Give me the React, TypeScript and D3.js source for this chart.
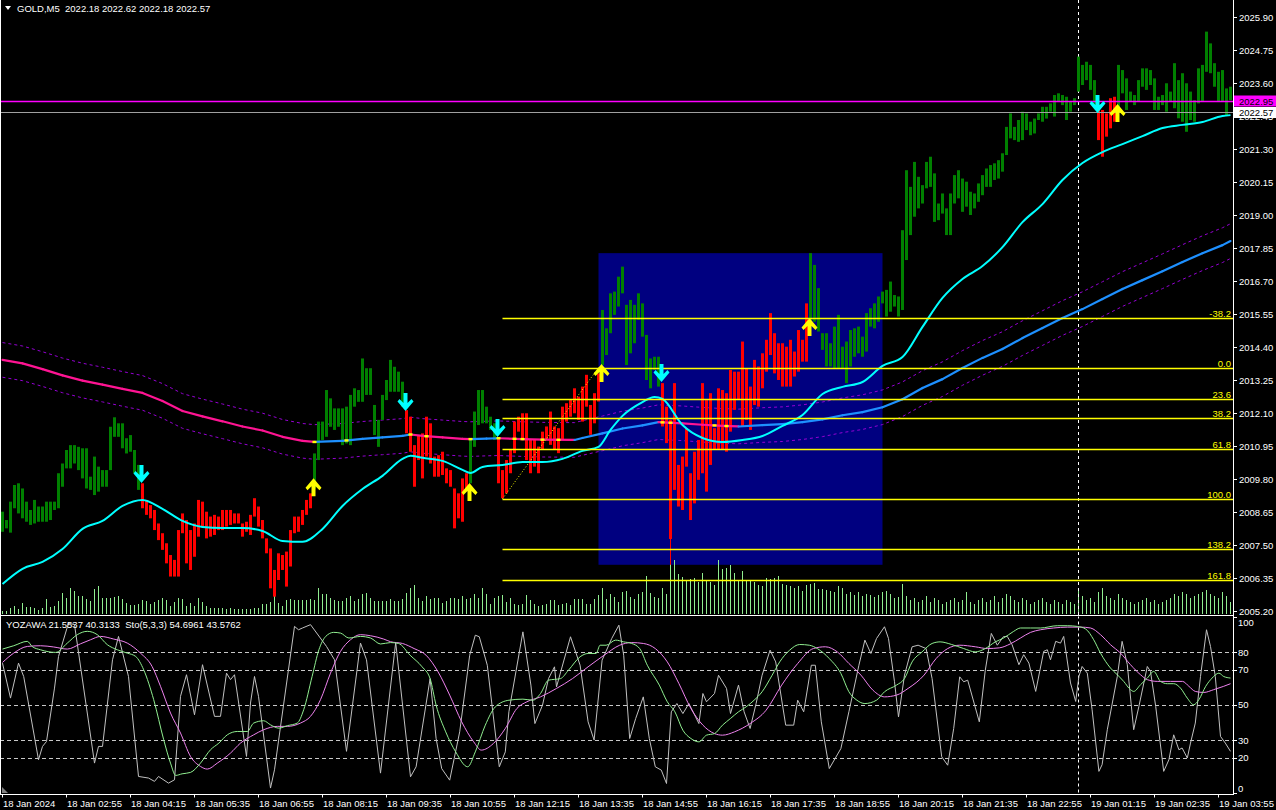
import React from "react";
import * as d3 from "d3";

// ---------- DATA ----------
const symbolTitle = "GOLD,M5  2022.18 2022.62 2022.18 2022.57";
const oscTitle = "YOZAWA 21.5537 40.3133  Sto(5,3,3) 54.6961 43.5762";

const haOpen = [
  2007.95,2008.07,2007.92,2008.77,2008.59,2008.42,2008.30,2008.19,2008.24,2008.30,
  2008.30,2008.30,2008.36,2008.71,2008.77,2009.52,2010.16,2010.16,2010.33,2010.10,
  2009.81,2009.46,2009.41,2009.23,2009.35,2009.52,2009.52,2010.10,2011.26,2011.26,
  2010.86,2010.68,2010.74,2009.99,2009.41,2009.64,2009.06,2008.88,2008.71,2008.24,
  2007.90,2007.55,2007.14,2006.97,2008.01,2008.59,2008.36,2008.01,2008.24,2009.06,
  2009.00,2008.65,2008.48,2008.54,2008.48,2008.71,2008.71,2008.71,2008.59,2008.59,
  2008.24,2008.30,2008.54,2009.12,2008.83,2008.36,2007.72,2007.37,2006.62,2007.20,
  2007.14,2007.26,2008.01,2008.48,2008.48,2008.71,2009.06,2009.29,2009.46,2010.45,
  2011.15,2011.26,2011.61,2011.50,2011.61,2010.97,2011.03,2010.97,2012.31,2012.48,
  2012.48,2012.72,2012.72,2011.32,2010.91,2011.85,2012.54,2012.83,2012.83,2012.83,
  2012.31,2012.19,2011.96,2010.97,2011.32,2011.38,2011.96,2011.73,2010.57,2010.62,
  2010.74,2010.16,2010.10,2009.46,2009.29,2009.81,2009.99,2009.64,2010.91,2011.67,
  2011.73,2011.73,2011.50,2011.15,2011.21,2010.10,2010.45,2010.80,2011.79,2011.96,
  2012.08,2012.08,2011.15,2011.15,2010.92,2011.44,2011.62,2012.14,2011.62,2011.56,
  2012.31,2012.43,2012.54,2012.95,2012.66,2013.01,2013.42,2012.37,2012.78,2013.47,
  2013.76,2014.11,2014.87,2015.51,2015.80,2016.26,2013.76,2014.17,2014.52,2015.33,
  2014.75,2013.24,2012.95,2013.59,2013.01,2013.13,2012.31,2011.85,2013.13,2010.28,
  2010.57,2011.56,2009.99,2010.74,2011.15,2013.13,2012.54,2012.78,2011.56,2012.95,
  2012.89,2012.78,2013.59,2013.53,2013.53,2014.58,2013.65,2013.01,2013.94,2013.71,
  2014.17,2014.64,2015.57,2014.87,2014.52,2014.52,2014.40,2014.64,2014.23,2014.98,
  2014.64,2015.91,2015.16,2015.27,2014.93,2014.29,2013.71,2013.71,2013.65,2013.65,
  2013.65,2013.13,2013.71,2014.05,2014.17,2014.05,2014.23,2015.10,2015.04,2015.27,
  2015.91,2015.45,2015.62,2015.80,2015.45,2015.68,2017.42,2018.29,2018.93,2019.22,
  2019.39,2019.92,2019.97,2018.75,2018.81,2019.04,2018.29,2018.29,2019.39,2019.57,
  2019.10,2019.28,2018.99,2019.22,2019.45,2019.68,2019.97,2019.97,2020.21,2020.26,
  2020.50,2021.08,2021.66,2021.60,2021.54,2021.60,2021.95,2021.77,2021.83,2022.30,
  2022.24,2022.35,2022.59,2022.42,2022.94,2022.82,2022.30,2022.59,2022.82,2023.29,
  2023.52,2023.69,2023.35,2022.77,2022.65,2022.65,2022.53,2023.06,2023.11,2022.71,
  2023.23,2022.65,2022.94,2022.82,2022.94,2023.46,2023.35,2023.52,2022.65,2022.65,
  2022.82,2022.59,2022.94,2022.71,2022.36,2022.24,2021.89,2022.30,2022.24,2022.88,
  2022.94,2023.98,2023.93,2023.46,2022.94,2022.94,2022.47,2022.99,
];

const haClose = [
  2008.65,2008.36,2009.00,2009.58,2009.64,2009.46,2009.00,2008.71,2009.06,2008.83,
  2008.83,2009.00,2009.00,2009.00,2009.99,2010.33,2010.80,2010.97,2010.97,2010.91,
  2010.86,2010.86,2009.87,2010.57,2010.22,2010.10,2010.10,2011.61,2011.94,2011.73,
  2011.73,2011.21,2011.32,2010.80,2010.28,2008.77,2008.54,2008.42,2008.01,2007.66,
  2007.32,2006.85,2006.39,2006.39,2006.39,2007.90,2006.85,2006.62,2007.08,2007.78,
  2008.13,2007.72,2007.78,2007.84,2008.01,2008.01,2008.13,2008.19,2008.24,2008.24,
  2007.78,2007.95,2007.84,2008.48,2008.13,2007.72,2007.20,2005.98,2005.69,2006.27,
  2006.62,2006.04,2006.74,2007.90,2007.95,2008.19,2008.54,2008.77,2010.68,2011.79,
  2011.79,2012.89,2012.60,2012.25,2012.25,2012.25,2012.31,2012.72,2012.95,2012.89,
  2013.99,2013.65,2013.65,2012.37,2011.85,2012.72,2013.24,2013.94,2013.70,2013.53,
  2013.18,2011.38,2010.74,2009.52,2010.45,2009.81,2010.57,2010.33,2009.87,2009.87,
  2009.93,2009.64,2009.52,2008.07,2008.42,2008.30,2009.41,2011.15,2012.14,2012.89,
  2012.89,2012.31,2011.96,2011.73,2009.64,2009.12,2009.29,2009.99,2010.69,2011.44,
  2011.15,2010.45,2009.99,2010.22,2009.99,2010.80,2011.15,2010.98,2010.80,2010.69,
  2011.15,2011.79,2011.96,2012.08,2011.85,2011.79,2012.31,2011.33,2011.73,2012.49,
  2015.68,2015.04,2016.26,2016.32,2016.84,2017.19,2015.86,2016.03,2015.86,2016.26,
  2015.91,2014.81,2013.99,2014.05,2014.05,2011.62,2011.04,2007.70,2009.41,2008.83,
  2008.71,2010.22,2008.36,2008.94,2009.76,2009.99,2009.35,2010.28,2010.80,2010.80,
  2010.80,2010.74,2011.44,2012.20,2012.54,2011.62,2011.85,2011.50,2012.37,2012.31,
  2012.95,2013.53,2014.11,2013.47,2013.24,2013.01,2013.01,2013.01,2013.36,2013.53,
  2013.88,2013.88,2017.66,2017.25,2016.44,2014.87,2014.87,2014.52,2015.10,2015.51,
  2014.40,2014.58,2014.98,2015.04,2015.10,2014.75,2015.57,2015.74,2015.91,2016.15,
  2016.32,2016.38,2016.67,2016.20,2016.15,2018.46,2020.55,2019.97,2020.84,2020.32,
  2020.03,2020.84,2021.02,2020.44,2019.39,2019.74,2019.22,2019.74,2020.38,2020.55,
  2020.26,2020.15,2019.80,2019.74,2020.09,2020.38,2020.61,2020.73,2020.79,2020.90,
  2021.14,2022.06,2022.53,2022.06,2022.30,2022.59,2022.53,2022.24,2022.35,2022.53,
  2022.76,2022.76,2022.88,2023.17,2023.23,2023.17,2023.11,2022.94,2023.06,2024.51,
  2024.22,2024.33,2024.22,2023.69,2021.60,2021.02,2021.72,2022.01,2022.24,2024.22,
  2024.04,2023.75,2023.29,2023.17,2023.69,2024.10,2024.10,2024.04,2023.75,2023.11,
  2023.17,2023.58,2023.29,2024.28,2023.69,2023.93,2023.58,2023.29,2022.99,2024.10,
  2024.22,2025.38,2024.97,2024.28,2023.98,2024.04,2023.40,2023.46,
];

const wickLowBars = [167];
const wickLowPrices = [2006.8];

const tickVolume = [
  30,30,60,80,50,110,70,70,60,40,
  60,150,70,80,130,210,160,260,230,180,
  180,150,130,250,280,160,160,160,170,180,
  150,110,90,90,100,140,130,100,120,140,
  160,140,80,120,160,150,80,110,80,160,
  120,80,60,60,60,60,50,60,50,50,
  50,50,50,60,60,100,100,120,200,110,
  80,140,150,140,140,140,140,150,140,260,
  200,200,160,140,130,130,160,180,130,150,
  200,210,160,130,130,130,130,150,130,130,
  150,210,260,290,160,130,180,150,160,160,
  110,130,160,160,150,180,150,160,200,160,
  260,200,100,160,180,190,120,160,100,90,
  100,190,140,100,80,90,100,140,140,90,
  100,110,90,150,150,150,100,100,150,190,
  260,150,200,170,120,220,230,170,150,200,
  220,380,210,170,160,260,200,760,540,400,
  370,330,350,360,320,410,330,320,290,540,
  450,460,490,410,330,430,330,330,320,290,
  280,360,350,360,380,300,290,280,260,280,
  230,290,300,310,250,250,240,230,220,280,
  260,200,220,190,220,180,200,190,170,190,
  220,230,200,160,170,300,180,140,160,120,
  140,180,120,160,140,100,120,140,160,120,
  140,220,120,100,140,160,120,140,180,120,
  160,200,180,140,120,160,140,100,120,140,
  160,120,100,140,120,100,140,120,100,240,
  180,140,160,120,220,260,180,160,140,200,
  160,140,120,100,120,140,160,120,140,100,
  120,140,160,200,180,220,200,160,180,200,
  220,240,200,180,160,220,180,120,
];

// fast moving average (cyan), [bar, price]
const maFast: [number, number][] = [
  [0,2006.13],[5,2006.66],[10,2006.90],[15,2007.35],[20,2008.05],[25,2008.33],[30,2008.85],[35,2009.06],
  [40,2008.75],[45,2008.33],[50,2008.12],[55,2008.08],[60,2008.08],[65,2007.98],[70,2007.63],[75,2007.60],
  [80,2008.05],[85,2008.85],[90,2009.44],[95,2009.90],[100,2010.49],[102,2010.60],[105,2010.53],[110,2010.42],
  [115,2010.11],[117,2010.00],[120,2010.21],[125,2010.28],[130,2010.38],[135,2010.38],[140,2010.49],[145,2010.77],
  [149,2010.91],[152,2011.50],[155,2011.99],[160,2012.47],[163,2012.65],[165,2012.58],[170,2011.67],[175,2011.22],
  [180,2011.08],[185,2011.15],[190,2011.29],[195,2011.64],[200,2012.02],[205,2012.75],[210,2013.00],[215,2013.17],
  [220,2013.73],[225,2014.04],[230,2015.09],[235,2016.10],[240,2016.76],[245,2017.21],[250,2017.87],[255,2018.74],
  [260,2019.37],[265,2020.21],[270,2020.80],[275,2021.18],[280,2021.46],[285,2021.74],[290,2022.02],[295,2022.13],
  [300,2022.23],[305,2022.44],[307,2022.47],
];

// slow moving average (pink falling / blue rising), [bar, price]
const maSlow: [number, number][] = [
  [0,2013.94],[5,2013.82],[10,2013.62],[15,2013.40],[20,2013.22],[25,2013.08],[30,2012.93],[35,2012.79],
  [40,2012.51],[45,2012.16],[50,2011.97],[55,2011.80],[60,2011.62],[65,2011.48],[70,2011.26],[75,2011.12],
  [78,2011.08],[85,2011.12],[90,2011.19],[95,2011.24],[100,2011.29],[102,2011.34],[105,2011.29],[110,2011.24],
  [115,2011.19],[117,2011.18],[121,2011.20],[124,2011.21],[130,2011.18],[135,2011.16],[143,2011.15],[145,2011.22],
  [150,2011.38],[155,2011.55],[160,2011.66],[164,2011.77],[170,2011.73],[175,2011.68],[180,2011.64],[184,2011.62],
  [190,2011.67],[195,2011.70],[200,2011.77],[205,2011.87],[210,2012.01],[215,2012.12],[220,2012.29],[225,2012.57],
  [230,2012.96],[235,2013.27],[240,2013.66],[245,2014.01],[250,2014.32],[255,2014.70],[260,2015.05],[265,2015.40],
  [270,2015.71],[275,2016.06],[280,2016.41],[285,2016.72],[290,2017.03],[295,2017.35],[300,2017.66],[305,2017.94],
  [307,2018.08],
];
const envelopePct = 0.03;
const slowYellowBars = [78, 86, 102, 106, 117, 124, 128, 130, 135, 139, 165, 167, 178, 181];

// Fibonacci retracement
const fibLevels = [-38.2, 0, 23.6, 38.2, 61.8, 100, 138.2, 161.8];
const fibStartBar = 125;
const fibEndBar = 149;
const fibLowPrice = 2009.1;
const fibHighPrice = 2013.67;

// rectangle object
const rectBars = [149, 220];
const rectPrices = [2006.8, 2017.66];

// signal arrows
const downArrowBars = [35, 101, 124, 165, 274];
const downArrowPrices = [2010.28, 2012.79, 2011.88, 2013.8, 2023.17];
const upArrowBars = [78, 117, 150, 202, 279];
const upArrowPrices = [2009.82, 2009.65, 2013.8, 2015.4, 2022.86];

// horizontal lines
const magentaLevel = 2022.95;
const bidPrice = 2022.57;
const separatorBar = 269;

// axes
const priceTicks = [
  2005.2, 2006.35, 2007.5, 2008.65, 2009.8, 2010.95, 2012.1, 2013.25, 2014.4, 2015.55,
  2016.7, 2017.85, 2019.0, 2020.15, 2021.3, 2022.45, 2023.6, 2024.75, 2025.9,
];
const timeTickBars = [0,16,32,48,64,80,96,112,128,144,160,176,192,208,224,240,256,272,288,304];
const timeLabels = [
  "18 Jan 2024","18 Jan 02:55","18 Jan 04:15","18 Jan 05:35","18 Jan 06:55","18 Jan 08:15",
  "18 Jan 09:35","18 Jan 10:55","18 Jan 12:15","18 Jan 13:35","18 Jan 14:55","18 Jan 16:15",
  "18 Jan 17:35","18 Jan 18:55","18 Jan 20:15","18 Jan 21:35","18 Jan 22:55","19 Jan 01:15",
  "19 Jan 02:35","19 Jan 03:55",
];

// oscillator window, [bar, value]
const oscGray: [number, number][] = [
  [0,73.8],[2,53.9],[4,73.8],[5.3,66.2],[9,18.8],[10,26.4],[11,29.2],[13,59.6],[14,77.6],[16.5,96.6],[18,95.7],
  [23,16.9],[24,26.4],[25,26.4],[27.5,75.7],[29,89.0],[31.5,66.2],[34,9.3],[36.5,8.4],[38,6.5],[39,9.3],[41.5,5.5],
  [43,7.4],[44.5,54.9],[46,67.2],[48,44.4],[50,72.9],[53,43.5],[54.5,43.5],[56,68.1],[57,64.4],[58,67.2],[61,20.7],
  [62,51.1],[63,66.2],[64,54.9],[67,2.7],[68,13.1],[73,94.7],[74,92.8],[75,93.8],[77,95.7],[81,83.3],[83,75.7],
  [86,23.6],[89.5,85.2],[91,75.7],[94.5,11.2],[98.3,85.5],[102,9.1],[103.4,14.8],[106.9,65.0],[108.4,30.9],
  [109.8,13.8],[111.8,7.2],[114.3,34.7],[116.8,78.3],[118.2,89.7],[119.2,88.8],[121.2,72.6],[124.2,14.8],
  [125.7,23.3],[126.6,46.1],[130.1,91.6],[132.1,61.3],[133.1,39.4],[135,49.9],[136.5,65.0],[138,71.7],[138.5,60.3],
  [142,88.8],[144.4,72.6],[146.4,40.4],[147.9,30.0],[149.9,75.5],[152.3,87.8],[154.1,95.4],[155.3,78.3],
  [156.8,30.9],[158.3,42.3],[160.2,54.6],[161.7,30.9],[163.2,14.8],[164.7,12.9],[166,5.3],[167.2,46.1],
  [168.6,50.8],[170.1,45.1],[171.6,50.8],[174.1,39.4],[175.1,56.5],[176,51.8],[178,56.5],[179,66.9],[181,59.4],
  [182,45.1],[184,61.3],[185.4,46.1],[186.9,36.6],[188.4,50.8],[189.9,66.9],[191.9,81.2],[193.3,74.5],
  [195.8,38.5],[197.8,38.5],[198.8,52.7],[200.3,46.1],[202.2,72.6],[203.2,72.6],[204.7,40.4],[206.7,13.8],
  [209.6,25.2],[211.6,46.1],[214.1,72.6],[215.6,86.9],[217.1,79.3],[218.5,87.8],[220.5,94.5],[221.5,87.8],
  [223,63.2],[224,43.2],[225.5,67.0],[227.4,83.1],[228.9,84.0],[230.9,82.1],[232.4,65.0],[234.8,20.5],
  [236.3,15.7],[237.8,36.6],[239.3,66.0],[240.3,63.2],[241.3,64.1],[244.2,40.4],[245.7,69.8],[247.2,90.7],
  [248.7,84.0],[250.2,88.8],[251.2,89.0],[252.4,84.3],[254.1,72.9],[255.3,78.6],[256.6,73.8],[258.3,57.7],
  [260.3,80.5],[261.2,81.4],[262,75.7],[263.3,86.2],[264.5,85.2],[265.3,89.0],[267,62.5],[268.3,52.0],
  [269.1,66.2],[269.9,71.9],[271.2,68.1],[272.4,47.3],[274.1,12.2],[274.9,16.0],[276.2,35.9],[278.7,66.2],
  [279.9,86.2],[281.2,72.9],[282.8,35.9],[284.1,49.2],[286.2,71.9],[287,69.1],[288.3,49.2],[290.3,12.2],
  [291.6,18.8],[292.8,33.0],[294.1,24.5],[294.9,25.5],[296.2,19.8],[297,28.3],[298.2,39.7],[299.5,66.2],
  [301,92.8],[302,83.3],[303.2,66.2],[304.5,32.1],[305.7,28.3],[307,23.6],
];

const oscGreen: [number, number][] = [
  [0,81.8],[2.8,83.7],[6.2,86.2],[7.4,83.3],[9.5,81.4],[13.3,79.9],[16.2,85.2],[18.7,90.0],[21.2,91.9],[23.7,90.0],
  [26.2,84.3],[28.7,81.4],[31.2,79.5],[33.3,77.6],[35.3,70.0],[37.8,53.0],[40.3,30.2],[42,16.9],[43.3,9.9],
  [44.9,10.8],[47,11.6],[49.5,16.9],[52,24.5],[54.1,28.3],[56.2,33.0],[58.7,34.9],[61.2,34.9],[62.8,39.7],
  [65.3,41.0],[67,38.7],[69.1,36.8],[71.2,38.2],[73.7,39.7],[75.3,47.3],[77.4,66.2],[79.1,81.4],[80.8,89.0],
  [82.8,91.3],[84.5,90.9],[86.6,88.1],[89.5,89.0],[92,88.1],[94.5,84.7],[97,85.5],[99,85.0],[101.9,78.3],
  [104.9,71.7],[106.9,65.0],[108.4,49.9],[110.8,34.7],[113.3,23.3],[116.3,14.8],[118.2,23.3],[120.7,38.5],
  [123.2,48.9],[126.6,52.7],[130.1,53.3],[132.6,52.7],[134.5,56.5],[136.5,64.1],[139.5,65.0],[141.5,69.8],
  [144.4,77.4],[146.4,79.3],[148.4,79.3],[149.4,84.0],[150.9,84.0],[153.3,86.9],[155.3,85.9],[157.3,85.0],
  [159.3,82.1],[161.2,72.6],[164.2,61.3],[166.2,51.8],[168.1,46.1],[170.1,35.6],[172.1,30.9],[174.1,29.0],
  [176,32.8],[178,33.7],[180,38.5],[182,42.3],[184,46.1],[185.9,48.9],[187.9,52.7],[189.9,57.5],[192.4,66.9],
  [194.3,74.5],[196.8,81.2],[199.3,84.4],[201.7,84.0],[203.7,82.1],[206.7,76.4],[209.6,67.9],[211.6,57.5],
  [213.6,52.7],[215.6,50.8],[218.5,52.7],[220.5,57.5],[223.5,61.3],[225.5,65.0],[227.4,74.5],[229.9,80.2],
  [232.4,85.0],[234.4,85.9],[237.3,84.4],[240.3,82.1],[243.2,80.2],[245.7,82.1],[248.2,85.9],[250.2,88.0],
  [252.8,91.9],[254.5,93.8],[257,93.8],[259.5,93.8],[263.7,95.1],[266.2,95.1],[268.7,94.7],[270.8,93.2],
  [272.8,87.1],[274.5,79.5],[277,71.0],[278.7,67.2],[280.3,63.4],[282,58.7],[282.8,57.7],[284.5,61.5],
  [286.2,65.3],[287.8,69.1],[289.5,63.4],[291.2,62.1],[292.8,62.1],[294.5,59.6],[296.2,53.9],[297.8,50.1],
  [299.1,53.0],[300.8,60.6],[302.4,65.3],[304.1,68.1],[305.3,66.2],[307,65.3],
];

const oscViolet: [number, number][] = [
  [0,74.2],[2.8,79.5],[6.2,83.3],[9.5,83.7],[12.8,83.0],[16.2,81.8],[19.5,84.8],[22,87.1],[24.5,89.0],[27.8,87.5],
  [31.2,85.2],[34.5,79.5],[37.4,71.9],[39.5,60.6],[42,45.4],[44.5,34.0],[47,20.7],[49.5,15.0],[51.2,13.5],
  [53.7,16.9],[57,22.6],[59.5,28.3],[62.8,33.0],[65.3,35.9],[68.7,37.8],[71.2,37.8],[74.5,39.7],[77,43.5],
  [79.5,53.0],[82,68.1],[84.5,80.5],[87,87.1],[89.5,90.0],[92,89.4],[95.3,87.5],[97,86.0],[100,85.0],
  [102.9,82.1],[105.9,78.3],[108.9,68.8],[111.8,55.6],[114.8,40.4],[117.8,29.0],[119.7,24.3],[122.7,28.0],
  [125.7,36.6],[128.6,48.0],[131.1,51.8],[134.5,54.6],[138.5,59.4],[142.5,65.0],[146.4,71.7],[150.4,78.3],
  [154.3,84.0],[157.3,85.5],[160.2,85.0],[163.2,82.1],[166.2,74.5],[169.1,62.2],[172.1,48.0],[175.1,38.5],
  [178,33.7],[180,32.8],[183,34.7],[186.9,39.4],[190.9,47.0],[194.8,61.3],[198.8,73.6],[202.7,82.1],
  [205.7,83.1],[208.7,80.2],[211.6,73.6],[214.6,67.0],[217.6,58.4],[220.5,54.6],[223.5,55.6],[226.4,59.4],
  [230.4,67.0],[233.4,76.4],[236.3,82.1],[239.3,84.0],[243.2,83.1],[246.2,82.1],[249.2,82.5],[252,84.8],
  [254.5,88.1],[257,91.3],[259.5,92.8],[262.8,93.8],[266.2,94.3],[269.5,94.3],[272,93.8],[274.5,90.0],
  [277,84.3],[279.5,79.5],[282,72.9],[284.5,67.2],[286.2,64.4],[288.7,63.4],[292,63.4],[295,63.4],
  [296.6,60.6],[298.2,57.7],[300.3,57.1],[302.8,58.7],[305.3,60.6],[307,62.1],
];

const oscLevels = [80, 70, 50, 30, 20];
const oscAxisLabels = [100, 80, 70, 50, 30, 20, 0];

// ---------- LAYOUT / STYLE ----------
const W = 1276;
const H = 810;
const PLOT_R = 1233;
const MAIN_BOTTOM = 615.5;
const AXIS_Y = 794.5;
const FONT = "'Liberation Sans', Arial, sans-serif";
const C = {
  bg: "#000000",
  green: "#008000",
  red: "#FF0000",
  navy: "#000080",
  cyan: "#00FFFF",
  pink: "#FF1493",
  blue: "#1E90FF",
  envelope: "#9400D3",
  yellow: "#FFFF00",
  vol: "#90EE90",
  magenta: "#FF00FF",
  bid: "#A0A0A0",
  text: "#FFFFFF",
  oscGray: "#C0C0C0",
  oscGreen: "#90EE90",
  oscViolet: "#EE82EE",
  level: "#C8C8C8",
};

function arrowPoints(cx: number, t: number, down: boolean): string {
  const pts: [number, number][] = [
    [cx - 2, 0], [cx + 2, 0], [cx + 2, 10], [cx + 6, 6], [cx + 8, 8.5],
    [cx, 18], [cx - 8, 8.5], [cx - 6, 6], [cx - 2, 10],
  ];
  return pts.map(([px, dy]) => `${px},${down ? t + dy : t + 18 - dy}`).join(" ");
}

export default function App() {
  const x = d3.scaleLinear().domain([0, 307]).range([2.5, 1230.5]);
  const y = d3.scaleLinear().domain([2005.2, 2025.9]).range([610.7, 16.7]);
  const yo = d3.scaleLinear().domain([0, 100]).range([792.8, 617.1]);
  const yv = d3.scaleLinear().domain([0, 760]).range([614, 538]);
  const crisp = (v: number) => Math.round(v) + 0.5;

  const lineP = d3.line<[number, number]>().x((d) => x(d[0])).y((d) => y(d[1]));
  const lineSmooth = d3
    .line<[number, number]>()
    .x((d) => x(d[0]))
    .y((d) => y(d[1]))
    .curve(d3.curveMonotoneX);
  const oscLine = d3.line<[number, number]>().x((d) => x(d[0])).y((d) => yo(d[1]));
  const oscSmooth = d3
    .line<[number, number]>()
    .x((d) => x(d[0]))
    .y((d) => yo(d[1]))
    .curve(d3.curveMonotoneX);

  const slowAt = d3
    .scaleLinear()
    .domain(maSlow.map((d) => d[0]))
    .range(maSlow.map((d) => d[1]));

  const envUpper = maSlow.map((d) => [d[0], d[1] * (1 + envelopePct / 100)] as [number, number]);
  const envLower = maSlow.map((d) => [d[0], d[1] * (1 - envelopePct / 100)] as [number, number]);

  const fibPrice = (lv: number) => fibHighPrice - ((fibHighPrice - fibLowPrice) * lv) / 100;

  const slowSegs = maSlow.slice(0, -1).map((d, k) => {
    const n = maSlow[k + 1];
    return { a: d, b: n, up: n[1] >= d[1] };
  });

  const magY = crisp(y(magentaLevel));
  const bidY = crisp(y(bidPrice));

  return (
    <div style={{ position: "fixed", left: 0, top: 0, width: W, height: H, background: C.bg }}>
      <svg width={W} height={H} style={{ display: "block" }} fontFamily={FONT}>
        <defs>
          <clipPath id="mainClip">
            <rect x={0} y={0} width={PLOT_R} height={MAIN_BOTTOM} />
          </clipPath>
          <clipPath id="oscClip">
            <rect x={0} y={MAIN_BOTTOM + 1} width={PLOT_R} height={AXIS_Y - MAIN_BOTTOM - 1} />
          </clipPath>
          <clipPath id="hiddenLabelClip">
            <rect x={PLOT_R + 1} y={bidY + 5.5} width={W - PLOT_R - 1} height={10} />
          </clipPath>
        </defs>
        <rect x={0} y={0} width={W} height={H} fill={C.bg} />

        {/* ---------- MAIN WINDOW ---------- */}
        <g clipPath="url(#mainClip)">
          {/* rectangle object */}
          <rect
            x={x(rectBars[0])}
            y={y(rectPrices[1])}
            width={x(rectBars[1]) - x(rectBars[0])}
            height={y(rectPrices[0]) - y(rectPrices[1])}
            fill={C.navy}
          />
          {/* volumes */}
          {tickVolume.map((v, i) => (
            <line key={"v" + i} x1={x(i)} x2={x(i)} y1={yv(0)} y2={yv(v)} stroke={C.vol} strokeWidth={1} />
          ))}
          {/* envelopes */}
          <path d={lineP(envUpper) || ""} fill="none" stroke={C.envelope} strokeWidth={1} strokeDasharray="3,3" />
          <path d={lineP(envLower) || ""} fill="none" stroke={C.envelope} strokeWidth={1} strokeDasharray="3,3" />
          {/* period separator */}
          <line
            x1={x(separatorBar)}
            x2={x(separatorBar)}
            y1={0}
            y2={MAIN_BOTTOM}
            stroke={C.text}
            strokeWidth={1}
            strokeDasharray="3,3"
          />
          {/* candles */}
          {haOpen.map((o, i) => {
            const c = haClose[i];
            const top = y(Math.max(o, c));
            const bot = y(Math.min(o, c));
            return (
              <rect
                key={"c" + i}
                x={x(i) - 1.5}
                y={top}
                width={3}
                height={Math.max(1, bot - top)}
                fill={c >= o ? C.green : C.red}
              />
            );
          })}
          {wickLowBars.map((b, k) => (
            <line
              key={"w" + k}
              x1={x(b)}
              x2={x(b)}
              y1={y(Math.min(haOpen[b], haClose[b]))}
              y2={y(wickLowPrices[k])}
              stroke={haClose[b] >= haOpen[b] ? C.green : C.red}
              strokeWidth={1}
            />
          ))}
          {/* horizontal lines */}
          <line x1={0} x2={PLOT_R} y1={bidY} y2={bidY} stroke={C.bid} strokeWidth={1} />
          <rect x={0} y={magY - 0.75} width={PLOT_R} height={1.5} fill={C.magenta} />
          {/* slow MA */}
          {slowSegs.map((s, k) => (
            <line
              key={"s" + k}
              x1={x(s.a[0])}
              y1={y(s.a[1])}
              x2={x(s.b[0])}
              y2={y(s.b[1])}
              stroke={s.up ? C.blue : C.pink}
              strokeWidth={2.2}
              strokeLinecap="round"
            />
          ))}
          {slowYellowBars.map((b, k) => (
            <line
              key={"yb" + k}
              x1={x(b) - 2}
              x2={x(b) + 2}
              y1={y(slowAt(b))}
              y2={y(slowAt(b))}
              stroke={C.yellow}
              strokeWidth={2.4}
            />
          ))}
          {/* fast MA */}
          <path d={lineSmooth(maFast) || ""} fill="none" stroke={C.cyan} strokeWidth={2} />
          {/* fibonacci */}
          <line
            x1={x(fibStartBar)}
            y1={y(fibLowPrice)}
            x2={x(fibEndBar)}
            y2={y(fibHighPrice)}
            stroke={C.yellow}
            strokeWidth={1}
            strokeDasharray="1,2"
          />
          {fibLevels.map((lv) => {
            const yy = crisp(y(fibPrice(lv)));
            return (
              <g key={"f" + lv}>
                <line x1={x(fibStartBar)} x2={PLOT_R} y1={yy} y2={yy} stroke={C.yellow} strokeWidth={1.3} />
                <text x={1231} y={yy - 2} fontSize={9.5} fill={C.yellow} textAnchor="end">
                  {lv.toFixed(1)}
                </text>
              </g>
            );
          })}
          {/* arrows */}
          {downArrowBars.map((b, k) => (
            <polygon key={"da" + k} points={arrowPoints(x(b) - 1, y(downArrowPrices[k]), true)} fill={C.cyan} />
          ))}
          {upArrowBars.map((b, k) => (
            <polygon key={"ua" + k} points={arrowPoints(x(b) - 1, y(upArrowPrices[k]), false)} fill={C.yellow} />
          ))}
        </g>

        {/* header */}
        <polygon points="5,6 11,6 8,10" fill={C.text} />
        <text x={17} y={11.5} fontSize={9.5} fill={C.text} style={{ whiteSpace: "pre" }}>
          {symbolTitle}
        </text>

        {/* ---------- OSCILLATOR WINDOW ---------- */}
        <g clipPath="url(#oscClip)">
          {oscLevels.map((lv) => (
            <line
              key={"ol" + lv}
              x1={0}
              x2={PLOT_R}
              y1={crisp(yo(lv))}
              y2={crisp(yo(lv))}
              stroke={C.level}
              strokeWidth={1}
              strokeDasharray="4,3"
            />
          ))}
          <line
            x1={x(separatorBar)}
            x2={x(separatorBar)}
            y1={MAIN_BOTTOM}
            y2={AXIS_Y}
            stroke={C.text}
            strokeWidth={1}
            strokeDasharray="3,3"
          />
          <path d={oscLine(oscGray) || ""} fill="none" stroke={C.oscGray} strokeWidth={1} />
          <path d={oscSmooth(oscViolet) || ""} fill="none" stroke={C.oscViolet} strokeWidth={1} />
          <path d={oscSmooth(oscGreen) || ""} fill="none" stroke={C.oscGreen} strokeWidth={1} />
        </g>
        <text x={6} y={628} fontSize={9.5} fill={C.text} style={{ whiteSpace: "pre" }}>
          {oscTitle}
        </text>
        <polygon points="2,787 2,793 8,793" fill="#808080" />

        {/* ---------- FRAMES ---------- */}
        <line x1={0.5} x2={0.5} y1={0} y2={AXIS_Y} stroke={C.text} />
        <line x1={PLOT_R + 0.5} x2={PLOT_R + 0.5} y1={0} y2={AXIS_Y} stroke={C.text} />
        <line x1={0} x2={PLOT_R + 1} y1={MAIN_BOTTOM} y2={MAIN_BOTTOM} stroke={C.text} />
        <line x1={0} x2={PLOT_R + 1} y1={AXIS_Y} y2={AXIS_Y} stroke={C.text} />

        {/* price axis */}
        {priceTicks.map((p) => {
          const yy = crisp(y(p));
          const hidden = Math.abs(p - bidPrice) < 0.3;
          return (
            <g key={"pt" + p}>
              <line x1={PLOT_R} x2={PLOT_R + 4} y1={yy} y2={yy} stroke={C.text} />
              <text
                x={1239}
                y={yy + 3.5}
                fontSize={9.5}
                fill={C.text}
                clipPath={hidden ? "url(#hiddenLabelClip)" : undefined}
              >
                {p.toFixed(2)}
              </text>
            </g>
          );
        })}
        <rect x={PLOT_R + 1} y={magY - 6} width={W - PLOT_R - 1} height={11} fill={C.magenta} />
        <text x={1239} y={magY + 3.5} fontSize={9.5} fill="#000">
          {magentaLevel.toFixed(2)}
        </text>
        <rect x={PLOT_R + 1} y={bidY - 5.5} width={W - PLOT_R - 1} height={11} fill="#FFFFFF" />
        <text x={1239} y={bidY + 3.5} fontSize={9.5} fill="#000">
          {bidPrice.toFixed(2)}
        </text>

        {/* oscillator axis */}
        {oscAxisLabels.map((lv) => {
          const yy = Math.min(Math.max(yo(lv), 622), 788);
          return (
            <g key={"oa" + lv}>
              <line x1={PLOT_R} x2={PLOT_R + 4} y1={crisp(yo(lv))} y2={crisp(yo(lv))} stroke={C.text} />
              <text x={1238} y={yy + 3.5} fontSize={9.5} fill={C.text}>
                {lv}
              </text>
            </g>
          );
        })}

        {/* time axis */}
        {timeTickBars.map((b, k) => {
          const xx = Math.floor(x(b)) + 0.5;
          return (
            <g key={"tt" + b}>
              <line x1={xx} x2={xx} y1={AXIS_Y} y2={AXIS_Y + 3} stroke={C.text} />
              <text x={xx + 0.5} y={806.5} fontSize={9.5} fill={C.text}>
                {timeLabels[k]}
              </text>
            </g>
          );
        })}
      </svg>
    </div>
  );
}
